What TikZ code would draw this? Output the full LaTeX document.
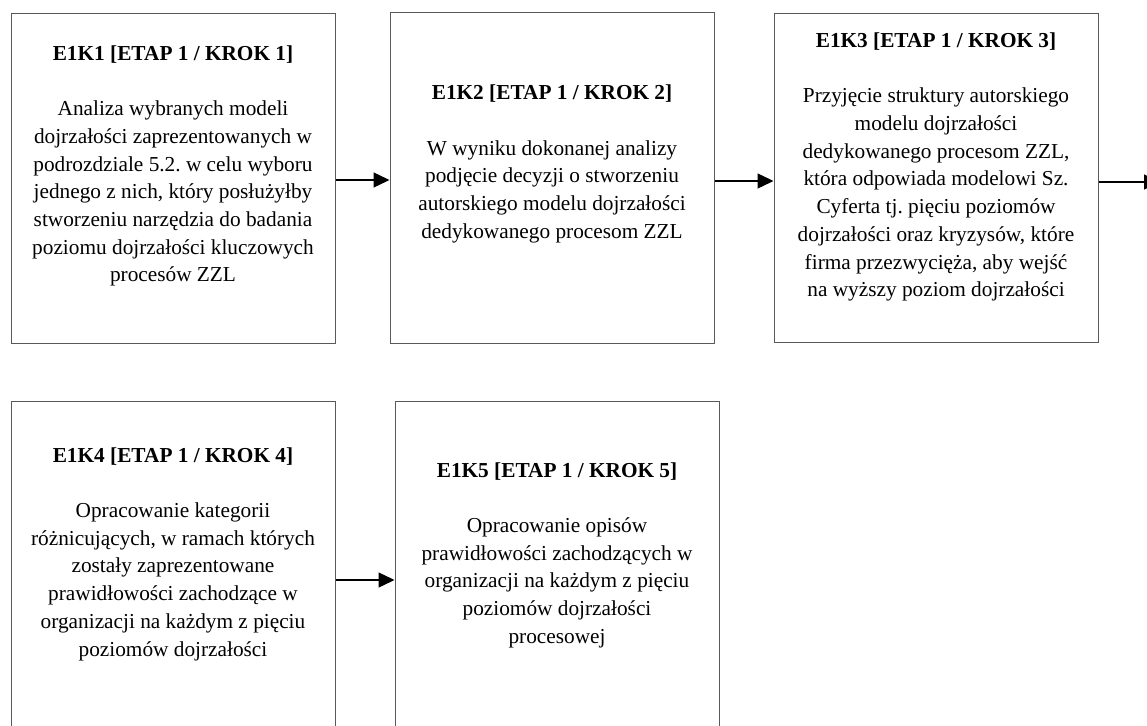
\documentclass[tikz,border=0pt]{standalone}
\usepackage{fontspec}
\setmainfont{Liberation Serif}
\frenchspacing
\usetikzlibrary{arrows.meta}
\begin{document}
\begin{tikzpicture}[x=1pt,y=-1pt,
  stepbox/.style={draw=black!65,line width=1pt,rectangle,inner sep=0pt},
  txt/.style={align=center,inner sep=0pt,font=\fontsize{21.3}{27.7}\selectfont\frenchspacing},
  conn/.style={line width=1.3pt,-{Triangle[length=16pt,width=15pt]}}]
\useasboundingbox (0,0) rectangle (1147,725);
% boxes
\node[stepbox,minimum width=324pt,minimum height=329pt] (b1) at (173,178.5) {};
\node[stepbox,minimum width=324pt,minimum height=330pt] (b2) at (552,178) {};
\node[stepbox,minimum width=324pt,minimum height=328pt] (b3) at (936,178) {};
\node[stepbox,minimum width=324pt,minimum height=340pt] (b4) at (173,571) {};
\node[stepbox,minimum width=324pt,minimum height=340pt] (b5) at (557,571) {};
\coordinate (e3) at (1160,182);
% texts
\node[txt] (t1) at (173,166) {\textbf{E1K1 [ETAP 1 / KROK 1]}\\[27.7pt]
Analiza wybranych modeli\\ dojrzałości zaprezentowanych w\\ podrozdziale 5.2. w celu wyboru\\ jednego z nich, który posłużyłby\\ stworzeniu narzędzia do badania\\ poziomu dojrzałości kluczowych\\ procesów ZZL};
\node[txt] (t2) at (552,164) {\textbf{E1K2 [ETAP 1 / KROK 2]}\\[27.7pt]
W wyniku dokonanej analizy\\ podjęcie decyzji o stworzeniu\\ autorskiego modelu dojrzałości\\ dedykowanego procesom ZZL};
\node[txt] (t3) at (936,167) {\textbf{E1K3 [ETAP 1 / KROK 3]}\\[27.7pt]
Przyjęcie struktury autorskiego\\ modelu dojrzałości\\ dedykowanego procesom ZZL,\\ która odpowiada modelowi Sz.\\ Cyferta tj. pięciu poziomów\\ dojrzałości oraz kryzysów, które\\ firma przezwycięża, aby wejść\\ na wyższy poziom dojrzałości};
\node[txt] (t4) at (173,554) {\textbf{E1K4 [ETAP 1 / KROK 4]}\\[27.7pt]
Opracowanie kategorii\\ różnicujących, w ramach których\\ zostały zaprezentowane\\ prawidłowości zachodzące w\\ organizacji na każdym z pięciu\\ poziomów dojrzałości};
\node[txt] (t5) at (557,555) {\textbf{E1K5 [ETAP 1 / KROK 5]}\\[27.7pt]
Opracowanie opisów\\ prawidłowości zachodzących w\\ organizacji na każdym z pięciu\\ poziomów dojrzałości\\ procesowej};
% connectors
\draw[conn] (b1.east |- 0,180) -- (b2.west |- 0,180);
\draw[conn] (b2.east |- 0,181) -- (b3.west |- 0,181);
\draw[conn] (b3.east |- 0,182) -- (e3);
\draw[conn] (b4.east |- 0,580) -- (b5.west |- 0,580);
\end{tikzpicture}
\end{document}
